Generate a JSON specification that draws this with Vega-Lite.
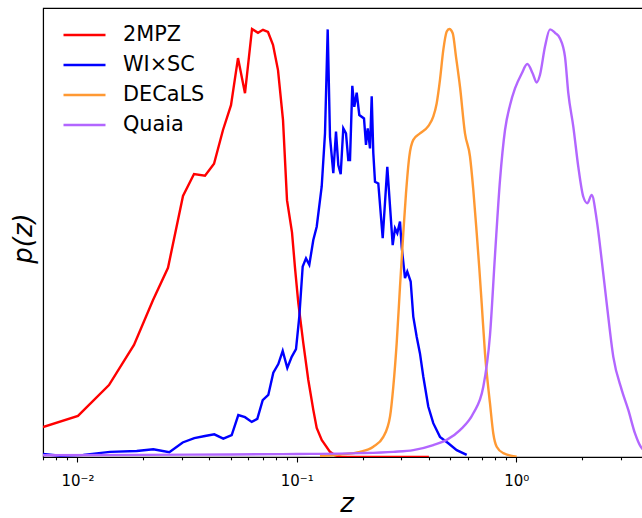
{
  "$schema": "https://vega.github.io/schema/vega-lite/v6.json",
  "autosize": "none",
  "padding": {"left": 43, "top": 8, "right": 0, "bottom": 61},
  "width": 607,
  "height": 449,
  "config": {
    "font": "DejaVu Sans",
    "view": {"stroke": "#000000", "strokeWidth": 1.1},
    "axis": {"domainColor": "#000000", "domainWidth": 1.1, "tickColor": "#000000", "tickWidth": 1.1, "labelColor": "#000000", "titleColor": "#000000", "grid": false, "labelFont": "DejaVu Sans", "titleFont": "DejaVu Sans", "titleFontWeight": "normal"},
    "legend": {"labelFont": "DejaVu Sans"}
  },
  "datasets": {
    "sharp": [
      {"s": "2MPZ", "z": 0.00697, "p": 0.070},
      {"s": "2MPZ", "z": 0.01006, "p": 0.096},
      {"s": "2MPZ", "z": 0.01393, "p": 0.168},
      {"s": "2MPZ", "z": 0.01811, "p": 0.262},
      {"s": "2MPZ", "z": 0.02212, "p": 0.367},
      {"s": "2MPZ", "z": 0.02588, "p": 0.442},
      {"s": "2MPZ", "z": 0.03029, "p": 0.610},
      {"s": "2MPZ", "z": 0.03400, "p": 0.661},
      {"s": "2MPZ", "z": 0.03816, "p": 0.657},
      {"s": "2MPZ", "z": 0.04195, "p": 0.685},
      {"s": "2MPZ", "z": 0.04609, "p": 0.764},
      {"s": "2MPZ", "z": 0.05013, "p": 0.822},
      {"s": "2MPZ", "z": 0.05395, "p": 0.932},
      {"s": "2MPZ", "z": 0.05806, "p": 0.850},
      {"s": "2MPZ", "z": 0.06250, "p": 1.000},
      {"s": "2MPZ", "z": 0.06654, "p": 0.991},
      {"s": "2MPZ", "z": 0.07013, "p": 0.998},
      {"s": "2MPZ", "z": 0.07391, "p": 0.993},
      {"s": "2MPZ", "z": 0.07790, "p": 0.963},
      {"s": "2MPZ", "z": 0.08210, "p": 0.904},
      {"s": "2MPZ", "z": 0.08653, "p": 0.787},
      {"s": "2MPZ", "z": 0.09023, "p": 0.600},
      {"s": "2MPZ", "z": 0.09509, "p": 0.525},
      {"s": "2MPZ", "z": 0.09813, "p": 0.442},
      {"s": "2MPZ", "z": 0.10159, "p": 0.360},
      {"s": "2MPZ", "z": 0.10706, "p": 0.266},
      {"s": "2MPZ", "z": 0.11283, "p": 0.180},
      {"s": "2MPZ", "z": 0.11891, "p": 0.110},
      {"s": "2MPZ", "z": 0.12323, "p": 0.068},
      {"s": "2MPZ", "z": 0.12987, "p": 0.040},
      {"s": "2MPZ", "z": 0.14168, "p": 0.012},
      {"s": "2MPZ", "z": 0.14932, "p": 0.004},
      {"s": "2MPZ", "z": 0.16, "p": 0.0},
      {"s": "2MPZ", "z": 0.2, "p": 0.0},
      {"s": "2MPZ", "z": 0.25, "p": 0.0},
      {"s": "2MPZ", "z": 0.3, "p": 0.0},
      {"s": "2MPZ", "z": 0.35, "p": 0.0},
      {"s": "2MPZ", "z": 0.40, "p": 0.0},
      {"s": "WI×SC", "z": 0.00697, "p": 0.007},
      {"s": "WI×SC", "z": 0.00833, "p": 0.003},
      {"s": "WI×SC", "z": 0.01064, "p": 0.005},
      {"s": "WI×SC", "z": 0.01408, "p": 0.012},
      {"s": "WI×SC", "z": 0.01864, "p": 0.014},
      {"s": "WI×SC", "z": 0.02218, "p": 0.018},
      {"s": "WI×SC", "z": 0.02624, "p": 0.011},
      {"s": "WI×SC", "z": 0.03019, "p": 0.034},
      {"s": "WI×SC", "z": 0.03410, "p": 0.044},
      {"s": "WI×SC", "z": 0.03816, "p": 0.049},
      {"s": "WI×SC", "z": 0.04207, "p": 0.053},
      {"s": "WI×SC", "z": 0.04624, "p": 0.043},
      {"s": "WI×SC", "z": 0.05050, "p": 0.051},
      {"s": "WI×SC", "z": 0.05412, "p": 0.098},
      {"s": "WI×SC", "z": 0.05806, "p": 0.093},
      {"s": "WI×SC", "z": 0.06231, "p": 0.082},
      {"s": "WI×SC", "z": 0.06607, "p": 0.089},
      {"s": "WI×SC", "z": 0.06992, "p": 0.133},
      {"s": "WI×SC", "z": 0.07415, "p": 0.145},
      {"s": "WI×SC", "z": 0.07815, "p": 0.197},
      {"s": "WI×SC", "z": 0.08236, "p": 0.217},
      {"s": "WI×SC", "z": 0.08625, "p": 0.248},
      {"s": "WI×SC", "z": 0.09052, "p": 0.208},
      {"s": "WI×SC", "z": 0.09479, "p": 0.234},
      {"s": "WI×SC", "z": 0.09917, "p": 0.252},
      {"s": "WI×SC", "z": 0.10266, "p": 0.328},
      {"s": "WI×SC", "z": 0.10638, "p": 0.445},
      {"s": "WI×SC", "z": 0.11013, "p": 0.464},
      {"s": "WI×SC", "z": 0.11401, "p": 0.449},
      {"s": "WI×SC", "z": 0.11891, "p": 0.507},
      {"s": "WI×SC", "z": 0.12323, "p": 0.538},
      {"s": "WI×SC", "z": 0.12987, "p": 0.632},
      {"s": "WI×SC", "z": 0.13444, "p": 0.756},
      {"s": "WI×SC", "z": 0.13830, "p": 0.999},
      {"s": "WI×SC", "z": 0.14168, "p": 0.748},
      {"s": "WI×SC", "z": 0.14668, "p": 0.663},
      {"s": "WI×SC", "z": 0.15089, "p": 0.760},
      {"s": "WI×SC", "z": 0.15458, "p": 0.682},
      {"s": "WI×SC", "z": 0.15851, "p": 0.661},
      {"s": "WI×SC", "z": 0.16289, "p": 0.768},
      {"s": "WI×SC", "z": 0.16757, "p": 0.756},
      {"s": "WI×SC", "z": 0.17166, "p": 0.694},
      {"s": "WI×SC", "z": 0.17478, "p": 0.694},
      {"s": "WI×SC", "z": 0.17906, "p": 0.867},
      {"s": "WI×SC", "z": 0.18285, "p": 0.818},
      {"s": "WI×SC", "z": 0.18750, "p": 0.851},
      {"s": "WI×SC", "z": 0.19270, "p": 0.799},
      {"s": "WI×SC", "z": 0.20244, "p": 0.791},
      {"s": "WI×SC", "z": 0.20673, "p": 0.729},
      {"s": "WI×SC", "z": 0.21047, "p": 0.768},
      {"s": "WI×SC", "z": 0.21558, "p": 0.721},
      {"s": "WI×SC", "z": 0.21948, "p": 0.843},
      {"s": "WI×SC", "z": 0.22320, "p": 0.710},
      {"s": "WI×SC", "z": 0.22720, "p": 0.643},
      {"s": "WI×SC", "z": 0.23522, "p": 0.639},
      {"s": "WI×SC", "z": 0.24631, "p": 0.511},
      {"s": "WI×SC", "z": 0.25851, "p": 0.678},
      {"s": "WI×SC", "z": 0.27357, "p": 0.495},
      {"s": "WI×SC", "z": 0.28026, "p": 0.534},
      {"s": "WI×SC", "z": 0.28711, "p": 0.523},
      {"s": "WI×SC", "z": 0.29536, "p": 0.550},
      {"s": "WI×SC", "z": 0.30064, "p": 0.491},
      {"s": "WI×SC", "z": 0.31127, "p": 0.418},
      {"s": "WI×SC", "z": 0.31881, "p": 0.433},
      {"s": "WI×SC", "z": 0.33039, "p": 0.410},
      {"s": "WI×SC", "z": 0.33954, "p": 0.328},
      {"s": "WI×SC", "z": 0.35186, "p": 0.281},
      {"s": "WI×SC", "z": 0.36423, "p": 0.242},
      {"s": "WI×SC", "z": 0.37712, "p": 0.188},
      {"s": "WI×SC", "z": 0.39741, "p": 0.118},
      {"s": "WI×SC", "z": 0.41876, "p": 0.079},
      {"s": "WI×SC", "z": 0.44933, "p": 0.047},
      {"s": "WI×SC", "z": 0.49032, "p": 0.032},
      {"s": "WI×SC", "z": 0.53566, "p": 0.016},
      {"s": "WI×SC", "z": 0.59484, "p": 0.005}
    ],
    "smooth": [
      {"s": "DECaLS", "z": 0.12758, "p": 0.002},
      {"s": "DECaLS", "z": 0.15735, "p": 0.006},
      {"s": "DECaLS", "z": 0.19411, "p": 0.012},
      {"s": "DECaLS", "z": 0.22320, "p": 0.024},
      {"s": "DECaLS", "z": 0.24790, "p": 0.047},
      {"s": "DECaLS", "z": 0.26592, "p": 0.094},
      {"s": "DECaLS", "z": 0.27528, "p": 0.164},
      {"s": "DECaLS", "z": 0.28527, "p": 0.266},
      {"s": "DECaLS", "z": 0.29536, "p": 0.398},
      {"s": "DECaLS", "z": 0.30574, "p": 0.523},
      {"s": "DECaLS", "z": 0.31452, "p": 0.616},
      {"s": "DECaLS", "z": 0.32563, "p": 0.702},
      {"s": "DECaLS", "z": 0.33954, "p": 0.741},
      {"s": "DECaLS", "z": 0.36423, "p": 0.756},
      {"s": "DECaLS", "z": 0.39741, "p": 0.773},
      {"s": "DECaLS", "z": 0.41876, "p": 0.795},
      {"s": "DECaLS", "z": 0.43397, "p": 0.826},
      {"s": "DECaLS", "z": 0.44933, "p": 0.881},
      {"s": "DECaLS", "z": 0.46534, "p": 0.951},
      {"s": "DECaLS", "z": 0.48224, "p": 0.994},
      {"s": "DECaLS", "z": 0.49563, "p": 1.000},
      {"s": "DECaLS", "z": 0.51362, "p": 0.990},
      {"s": "DECaLS", "z": 0.53166, "p": 0.935},
      {"s": "DECaLS", "z": 0.55439, "p": 0.865},
      {"s": "DECaLS", "z": 0.58424, "p": 0.756},
      {"s": "DECaLS", "z": 0.61572, "p": 0.702},
      {"s": "DECaLS", "z": 0.63750, "p": 0.624},
      {"s": "DECaLS", "z": 0.66069, "p": 0.523},
      {"s": "DECaLS", "z": 0.67889, "p": 0.441},
      {"s": "DECaLS", "z": 0.69613, "p": 0.359},
      {"s": "DECaLS", "z": 0.72072, "p": 0.242},
      {"s": "DECaLS", "z": 0.75960, "p": 0.125},
      {"s": "DECaLS", "z": 0.78628, "p": 0.055},
      {"s": "DECaLS", "z": 0.81484, "p": 0.024},
      {"s": "DECaLS", "z": 0.87339, "p": 0.009},
      {"s": "DECaLS", "z": 1.0053, "p": 0.001},
      {"s": "Quaia", "z": 0.00697, "p": 0.004},
      {"s": "Quaia", "z": 0.02, "p": 0.005},
      {"s": "Quaia", "z": 0.05, "p": 0.006},
      {"s": "Quaia", "z": 0.1, "p": 0.007},
      {"s": "Quaia", "z": 0.19411, "p": 0.009},
      {"s": "Quaia", "z": 0.27528, "p": 0.012},
      {"s": "Quaia", "z": 0.33954, "p": 0.016},
      {"s": "Quaia", "z": 0.41876, "p": 0.028},
      {"s": "Quaia", "z": 0.48224, "p": 0.040},
      {"s": "Quaia", "z": 0.55439, "p": 0.063},
      {"s": "Quaia", "z": 0.63750, "p": 0.102},
      {"s": "Quaia", "z": 0.70795, "p": 0.164},
      {"s": "Quaia", "z": 0.75960, "p": 0.285},
      {"s": "Quaia", "z": 0.80057, "p": 0.472},
      {"s": "Quaia", "z": 0.84366, "p": 0.647},
      {"s": "Quaia", "z": 0.88920, "p": 0.764},
      {"s": "Quaia", "z": 0.93697, "p": 0.822},
      {"s": "Quaia", "z": 0.98744, "p": 0.861},
      {"s": "Quaia", "z": 1.0595, "p": 0.896},
      {"s": "Quaia", "z": 1.1236, "p": 0.918},
      {"s": "Quaia", "z": 1.1890, "p": 0.896},
      {"s": "Quaia", "z": 1.2400, "p": 0.875},
      {"s": "Quaia", "z": 1.2838, "p": 0.893},
      {"s": "Quaia", "z": 1.3529, "p": 0.959},
      {"s": "Quaia", "z": 1.4256, "p": 0.999},
      {"s": "Quaia", "z": 1.5026, "p": 0.991},
      {"s": "Quaia", "z": 1.5834, "p": 0.978},
      {"s": "Quaia", "z": 1.6688, "p": 0.935},
      {"s": "Quaia", "z": 1.7277, "p": 0.850},
      {"s": "Quaia", "z": 1.8208, "p": 0.772},
      {"s": "Quaia", "z": 1.9187, "p": 0.678},
      {"s": "Quaia", "z": 2.0221, "p": 0.608},
      {"s": "Quaia", "z": 2.1091, "p": 0.593},
      {"s": "Quaia", "z": 2.2086, "p": 0.612},
      {"s": "Quaia", "z": 2.3276, "p": 0.554},
      {"s": "Quaia", "z": 2.4530, "p": 0.460},
      {"s": "Quaia", "z": 2.5851, "p": 0.359},
      {"s": "Quaia", "z": 2.7706, "p": 0.234},
      {"s": "Quaia", "z": 3.0256, "p": 0.157},
      {"s": "Quaia", "z": 3.2426, "p": 0.110},
      {"s": "Quaia", "z": 3.4794, "p": 0.055},
      {"s": "Quaia", "z": 3.6936, "p": 0.024},
      {"s": "Quaia", "z": 4.0722, "p": 0.007}
    ]
  },
  "layer": [
    {
      "data": {"name": "sharp"},
      "mark": {"type": "line", "strokeWidth": 2.4, "clip": true},
      "encoding": {
        "x": {"field": "z", "type": "quantitative",
          "scale": {"type": "log", "domain": [0.00697, 4.072], "nice": false},
          "axis": {"orient": "bottom", "values": [0.01, 0.1, 1], "tickSize": 5, "labelPadding": 11, "labelFontSize": 15,
            "labelExpr": "datum.value < 0.05 ? '10⁻²' : datum.value < 0.5 ? '10⁻¹' : '10⁰'",
            "title": "z", "titleFontSize": 26, "titleFontStyle": "italic", "titleBaseline": "alphabetic", "titleY": 54, "titlePadding": 0}},
        "y": {"field": "p", "type": "quantitative",
          "scale": {"domain": [0, 1.049], "nice": false, "zero": true},
          "axis": {"ticks": false, "labels": false, "title": "p(z)", "titleFontSize": 26, "titleFontStyle": "italic",
            "titleAngle": 270, "titleBaseline": "middle", "titleAlign": "center", "titleX": -20, "titleY": 230}},
        "color": {"field": "s", "type": "nominal",
          "scale": {"domain": ["2MPZ", "WI×SC", "DECaLS", "Quaia"], "range": ["#ff0000", "#0000ff", "#ff9933", "#b266ff"]},
          "legend": {"orient": "none", "legendX": 19, "legendY": 13, "title": null, "symbolType": "stroke", "symbolSize": 1764,
            "symbolStrokeWidth": 2.4, "clipHeight": 28, "rowPadding": 2, "labelOffset": 16, "labelFontSize": 20.8, "labelColor": "#000000", "padding": 0}}
      }
    },
    {
      "data": {"name": "smooth"},
      "mark": {"type": "line", "strokeWidth": 2.4, "clip": true, "interpolate": "monotone"},
      "encoding": {
        "x": {"field": "z", "type": "quantitative",
          "scale": {"type": "log", "domain": [0.00697, 4.072], "nice": false},
          "axis": {"orient": "bottom", "values": [0.007, 0.008, 0.009, 0.02, 0.03, 0.04, 0.05, 0.06, 0.07, 0.08, 0.09, 0.2, 0.3, 0.4, 0.5, 0.6, 0.7, 0.8, 0.9, 2, 3, 4],
            "tickSize": 2.8, "labels": false, "domain": false, "title": null}},
        "y": {"field": "p", "type": "quantitative",
          "scale": {"domain": [0, 1.049], "nice": false, "zero": true},
          "axis": {"ticks": false, "labels": false, "title": "p(z)", "titleFontSize": 26, "titleFontStyle": "italic",
            "titleAngle": 270, "titleBaseline": "middle", "titleAlign": "center", "titleX": -20, "titleY": 230}},
        "color": {"field": "s", "type": "nominal",
          "scale": {"domain": ["2MPZ", "WI×SC", "DECaLS", "Quaia"], "range": ["#ff0000", "#0000ff", "#ff9933", "#b266ff"]},
          "legend": {"orient": "none", "legendX": 19, "legendY": 13, "title": null, "symbolType": "stroke", "symbolSize": 1764,
            "symbolStrokeWidth": 2.4, "clipHeight": 28, "rowPadding": 2, "labelOffset": 16, "labelFontSize": 20.8, "labelColor": "#000000", "padding": 0}}
      }
    }
  ],
  "resolve": {"axis": {"x": "independent"}}
}
